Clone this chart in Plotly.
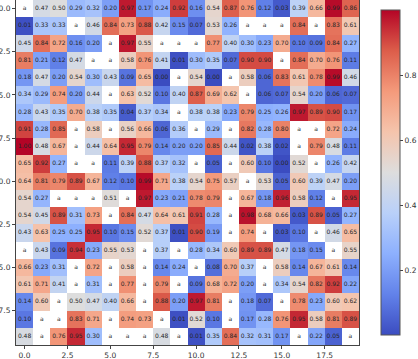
import plotly.graph_objects as go

a = None  # missing cell

row_00 = [a, 0.47, 0.50, 0.29, 0.32, 0.20, 0.97, 0.17, 0.24, 0.92, 0.16, 0.54, 0.87, 0.76, 0.12, 0.03, 0.39, 0.66, 0.99, 0.86]
row_01 = [0.01, 0.33, 0.33, a, 0.46, 0.84, 0.73, 0.88, 0.42, 0.15, 0.07, 0.53, 0.26, a, a, a, 0.84, a, 0.83, 0.61]
row_02 = [0.45, 0.84, 0.72, 0.16, 0.20, a, 0.97, 0.55, a, a, a, 0.77, 0.40, 0.30, 0.23, 0.70, 0.10, 0.09, 0.84, 0.27]
row_03 = [0.81, 0.21, 0.12, 0.47, a, a, 0.58, 0.76, 0.41, 0.01, 0.30, 0.35, 0.07, 0.90, 0.90, a, 0.84, 0.70, 0.76, 0.11]
row_04 = [0.18, 0.47, 0.20, 0.54, 0.30, 0.43, 0.09, 0.65, 0.00, a, 0.54, 0.00, a, 0.58, 0.06, 0.83, 0.61, 0.78, 0.99, 0.46]
row_05 = [0.34, 0.29, 0.74, 0.20, 0.44, a, 0.63, 0.52, 0.10, 0.40, 0.87, 0.69, 0.62, a, 0.06, 0.07, 0.54, 0.20, 0.06, 0.07]
row_06 = [0.28, 0.43, 0.35, 0.70, 0.38, 0.35, 0.04, 0.37, 0.34, a, 0.38, 0.38, 0.23, 0.79, 0.25, 0.26, 0.97, 0.89, 0.90, 0.17]
row_07 = [0.91, 0.28, 0.85, a, 0.58, a, 0.56, 0.66, 0.06, 0.36, a, 0.29, a, 0.82, 0.28, 0.80, a, a, 0.72, 0.24]
row_08 = [1.00, 0.48, 0.67, a, 0.44, 0.64, 0.95, 0.79, 0.14, 0.20, 0.20, 0.85, 0.44, 0.02, 0.38, 0.02, a, 0.79, 0.48, 0.11]
row_09 = [0.65, 0.92, 0.27, a, a, 0.11, 0.39, 0.88, 0.37, 0.32, a, 0.05, a, 0.60, 0.10, 0.00, 0.52, a, 0.26, 0.42]
row_10 = [0.64, 0.81, 0.79, 0.89, 0.67, 0.12, 0.10, 0.99, 0.71, 0.38, 0.54, 0.75, 0.57, a, 0.53, 0.05, 0.60, 0.39, 0.47, 0.20]
row_11 = [0.54, 0.27, a, a, a, 0.51, a, 0.97, 0.23, 0.21, 0.78, 0.79, a, 0.67, 0.18, 0.96, 0.58, 0.12, a, 0.95]
row_12 = [0.54, 0.45, 0.89, 0.31, 0.73, a, 0.84, 0.47, 0.64, 0.61, 0.91, 0.28, a, 0.98, 0.68, 0.66, 0.03, 0.89, 0.05, 0.27]
row_13 = [0.43, 0.63, 0.25, 0.25, 0.95, 0.10, 0.15, 0.52, 0.37, 0.01, 0.90, 0.19, a, 0.74, a, 0.03, 0.10, a, 0.46, 0.65]
row_14 = [a, 0.43, 0.09, 0.94, 0.23, 0.55, 0.53, a, 0.37, a, 0.28, 0.34, 0.60, 0.89, 0.89, 0.47, 0.18, 0.15, a, 0.55]
row_15 = [0.66, 0.23, 0.31, a, 0.72, a, 0.58, a, 0.14, 0.24, a, 0.08, 0.70, 0.37, a, 0.58, 0.14, 0.67, 0.61, 0.14]
row_16 = [0.61, 0.71, 0.41, a, 0.31, a, 0.77, a, 0.79, a, 0.09, 0.68, 0.72, 0.20, a, 0.34, 0.54, 0.82, 0.92, 0.22]
row_17 = [0.14, 0.60, a, 0.50, 0.47, 0.40, 0.66, a, 0.88, 0.20, 0.97, 0.81, a, 0.18, 0.07, a, 0.78, 0.23, 0.60, 0.62]
row_18 = [0.10, a, a, 0.83, 0.71, a, 0.74, 0.73, a, 0.01, 0.52, 0.10, a, 0.17, 0.28, 0.76, 0.95, 0.58, 0.81, 0.89]
row_19 = [0.48, a, 0.76, 0.95, 0.30, a, a, a, 0.48, a, 0.01, 0.35, 0.84, 0.32, 0.31, 0.17, a, 0.22, 0.05, a]

rows = [row_00, row_01, row_02, row_03, row_04, row_05, row_06, row_07, row_08, row_09,
        row_10, row_11, row_12, row_13, row_14, row_15, row_16, row_17, row_18, row_19]

col_index = list(range(20))
row_index = list(range(20))
tick_vals = [0.0, 2.5, 5.0, 7.5, 10.0, 12.5, 15.0, 17.5]
cbar_ticks = [0.2, 0.4, 0.6, 0.8]

coolwarm = [
    [0.0, "#3b4cc0"], [0.125, "#6282ea"], [0.25, "#8db0fe"], [0.375, "#b9d0f9"],
    [0.5, "#dddddd"], [0.625, "#f5c4ac"], [0.75, "#f49a7b"], [0.875, "#dc5d4a"],
    [1.0, "#b40426"],
]

tx, ty, tt = [], [], []
for r in row_index:
    for c in col_index:
        v = rows[r][c]
        tx.append(c)
        ty.append(r)
        tt.append("a" if v is None else f"{v:.2f}")

fig = go.Figure()
fig.add_trace(go.Heatmap(
    z=rows, x=col_index, y=row_index, colorscale=coolwarm, zmin=0, zmax=1,
    hoverongaps=False, xgap=0, ygap=0,
    colorbar=dict(
        x=1.0638, xanchor="left", xref="paper", xpad=0, y=0.5, yanchor="middle", len=1.0,
        lenmode="fraction", thickness=19, outlinecolor="#555", outlinewidth=1,
        tickvals=cbar_ticks, ticktext=[f"{t:.1f}" for t in cbar_ticks],
        ticks="outside", ticklen=3, tickcolor="#444",
        tickfont=dict(family="DejaVu Sans", size=7.5, color="#333"),
    ),
))
fig.add_trace(go.Scatter(
    x=tx, y=ty, text=tt, mode="text", hoverinfo="skip", showlegend=False,
    textfont=dict(family="DejaVu Sans", size=6, color="#262626"),
))

axis_common = dict(
    showgrid=False, zeroline=False, showline=True, mirror=True, linecolor="#444",
    linewidth=1, ticks="outside", ticklen=3, tickcolor="#444", automargin=False,
    tickvals=tick_vals, ticktext=[f"{t:.1f}" for t in tick_vals],
    tickfont=dict(family="DejaVu Sans", size=7.5, color="#333"),
)
fig.update_xaxes(range=[-0.5, 19.5], **axis_common)
fig.update_yaxes(range=[19.5, -0.5], **axis_common)

fig.update_layout(
    template="none", width=418, height=359, autosize=False,
    margin=dict(l=16, r=57, t=0, b=14),
    paper_bgcolor="white", plot_bgcolor="white",
)
fig.write_html("out.html", config={"displayModeBar": False, "responsive": False},
               post_script="document.body.style.margin='0';document.body.style.overflow='hidden';")
